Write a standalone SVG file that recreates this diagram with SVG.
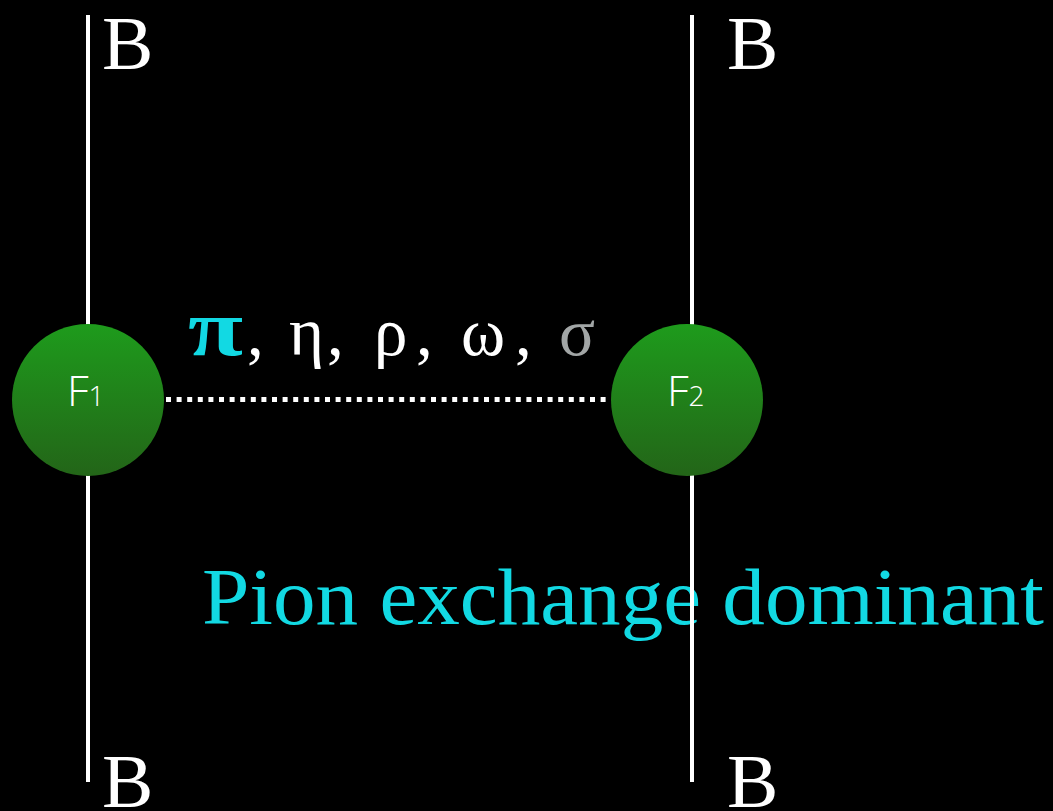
<svg xmlns="http://www.w3.org/2000/svg" width="1053" height="811" viewBox="0 0 1053 811">
<style>
.serif{font-family:"Liberation Serif","Times New Roman",serif}
.B{font-size:77px;fill:#ffffff}
.bar{stroke:#ffffff;stroke-width:4}
.lbl{font-family:"Open Sans","Liberation Sans",sans-serif;font-weight:300;fill:#ffffff}
</style>
<defs>
<linearGradient id="g" x1="0" y1="0" x2="0" y2="1">
<stop offset="0" stop-color="#1e9b1c"/>
<stop offset="1" stop-color="#236518"/>
</linearGradient>
</defs>
<rect width="1053" height="811" fill="#000000"/>
<text id="title" class="serif" x="202" y="624" font-size="80" fill="#12d9e3" textLength="842" lengthAdjust="spacingAndGlyphs">Pion exchange dominant</text>
<g id="labels" class="serif">
<text class="B" x="102" y="69">B</text>
<text class="B" x="727" y="69">B</text>
<text class="B" x="102" y="807">B</text>
<text class="B" x="727" y="807">B</text>
</g>
<text id="mesons" class="serif" y="355" font-size="67" fill="#ffffff"><tspan x="188" fill="#12d9e3" font-weight="bold" font-size="80" textLength="55" lengthAdjust="spacingAndGlyphs">π</tspan><tspan x="247">,</tspan><tspan x="289">η</tspan><tspan x="327">,</tspan><tspan x="374">ρ</tspan><tspan x="416">,</tspan><tspan x="461">ω</tspan><tspan x="515">,</tspan><tspan x="559" fill="#a2a6a6">σ</tspan></text>
<g id="connectors">
<line class="bar" x1="88" y1="15" x2="88" y2="782"/>
<line class="bar" x1="692" y1="15" x2="692" y2="782"/>
<line x1="166" y1="399.5" x2="610" y2="399.5" stroke="#ffffff" stroke-width="5" stroke-dasharray="5 5.6"/>
</g>
<g id="F1">
<circle cx="88" cy="400" r="76" fill="url(#g)"/>
<text class="lbl" x="67" y="406" font-size="43">F<tspan font-size="28">1</tspan></text>
</g>
<g id="F2">
<circle cx="687" cy="400" r="76" fill="url(#g)"/>
<text class="lbl" x="667" y="406" font-size="43">F<tspan font-size="28">2</tspan></text>
</g>
</svg>
